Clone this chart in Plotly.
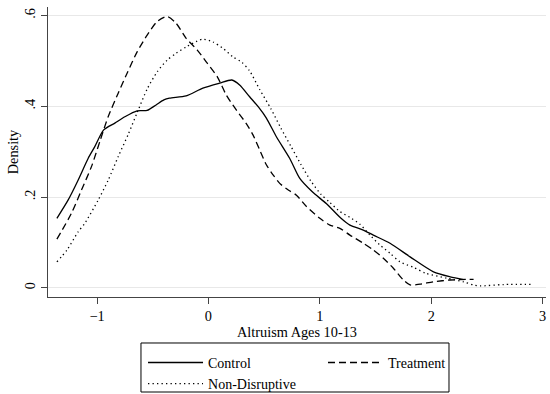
import plotly.graph_objects as go

# Kernel density estimates of altruism (ages 10-13) by group
control_x = [-1.36, -1.26, -1.17, -1.08, -1.02, -0.94, -0.84, -0.75, -0.64, -0.55, -0.47,
             -0.40, -0.35, -0.20, -0.05, 0.10, 0.21, 0.28, 0.37, 0.45, 0.52, 0.61, 0.73,
             0.82, 0.93, 1.06, 1.19, 1.27, 1.39, 1.48, 1.63, 1.81, 2.02, 2.17, 2.29]
control_y = [0.153, 0.193, 0.237, 0.285, 0.311, 0.348, 0.363, 0.377, 0.390, 0.391, 0.403,
             0.414, 0.418, 0.423, 0.440, 0.451, 0.458, 0.447, 0.421, 0.398, 0.374, 0.333, 0.285,
             0.241, 0.212, 0.185, 0.153, 0.138, 0.127, 0.116, 0.098, 0.068, 0.035, 0.024, 0.018]

treatment_x = [-1.36, -1.23, -1.14, -1.05, -0.97, -0.90, -0.81, -0.73, -0.64, -0.55, -0.46,
               -0.37, -0.29, -0.20, -0.10, -0.02, 0.08, 0.16, 0.25, 0.34, 0.40, 0.46, 0.52,
               0.58, 0.64, 0.72, 0.79, 0.88, 1.00, 1.09, 1.18, 1.27, 1.39, 1.48, 1.57, 1.66,
               1.75, 1.81, 1.90, 2.02, 2.17, 2.38]
treatment_y = [0.107, 0.164, 0.215, 0.267, 0.326, 0.377, 0.429, 0.473, 0.520, 0.557, 0.587,
               0.598, 0.583, 0.550, 0.524, 0.498, 0.465, 0.425, 0.392, 0.362, 0.337, 0.304, 0.271,
               0.249, 0.230, 0.215, 0.204, 0.179, 0.153, 0.138, 0.131, 0.116, 0.098, 0.083, 0.065,
               0.043, 0.017, 0.006, 0.008, 0.013, 0.017, 0.0185]

nondisruptive_x = [-1.36, -1.27, -1.17, -1.11, -0.99, -0.90, -0.81, -0.72, -0.64, -0.55, -0.46,
                   -0.37, -0.29, -0.20, -0.10, -0.05, 0.04, 0.13, 0.22, 0.30, 0.37, 0.46, 0.56,
                   0.65, 0.74, 0.83, 0.92, 1.01, 1.09, 1.18, 1.27, 1.36, 1.45, 1.54, 1.63, 1.72,
                   1.84, 1.95, 2.14, 2.29, 2.38, 2.44, 2.65, 2.92]
nondisruptive_y = [0.057, 0.083, 0.123, 0.142, 0.193, 0.237, 0.289, 0.338, 0.386, 0.438, 0.476,
                   0.502, 0.517, 0.531, 0.544, 0.548, 0.542, 0.528, 0.509, 0.497, 0.478, 0.437, 0.395,
                   0.352, 0.312, 0.272, 0.235, 0.206, 0.188, 0.168, 0.155, 0.140, 0.116, 0.094, 0.076,
                   0.057, 0.045, 0.032, 0.021, 0.013, 0.006, 0.004, 0.007, 0.0075]

x_ticks = [-1, 0, 1, 2, 3]
y_ticks = [0, 0.2, 0.4, 0.6]
y_tick_labels = ["0", ".2", ".4", ".6"]

FONT = "Liberation Serif"
FS = 14.3

fig = go.Figure()
fig.add_trace(go.Scatter(x=control_x, y=control_y, mode="lines", name="Control",
                         line=dict(color="black", width=1.3, shape="spline", smoothing=0.7),
                         legend="legend"))
fig.add_trace(go.Scatter(x=treatment_x, y=treatment_y, mode="lines", name="Treatment",
                         line=dict(color="black", width=1.3, dash="7px,4px", shape="spline", smoothing=0.7),
                         legend="legend2"))
fig.add_trace(go.Scatter(x=nondisruptive_x, y=nondisruptive_y, mode="lines", name="Non-Disruptive",
                         line=dict(color="black", width=1.3, dash="1.3px,3.2px", shape="spline", smoothing=0.7),
                         legend="legend"))

legend_common = dict(orientation="v", xanchor="left", yanchor="top", y=-0.172,
                     borderwidth=0, bgcolor="rgba(0,0,0,0)", itemwidth=55,
                     font=dict(family=FONT, size=14, color="black"), traceorder="normal")

fig.update_layout(
    width=550, height=394,
    margin=dict(l=48, r=4, t=7, b=97, autoexpand=False),
    paper_bgcolor="white", plot_bgcolor="white",
    font=dict(family=FONT, size=FS, color="black"),
    showlegend=True,
    legend=dict(x=0.1908, **legend_common),
    legend2=dict(x=0.5522, **legend_common),
    # frame around the two legend columns
    shapes=[dict(type="rect", xref="paper", yref="paper",
                 x0=0.1867, x1=0.8052, y0=-0.3276, y1=-0.1586,
                 line=dict(color="black", width=1), fillcolor="rgba(0,0,0,0)")],
    xaxis=dict(range=[-1.44, 3.03], tickvals=x_ticks, showgrid=False, zeroline=False,
               showline=True, linecolor="#444", linewidth=1.2,
               ticks="outside", ticklen=6, tickcolor="#444", tickwidth=1,
               tickfont=dict(family=FONT, size=FS),
               title=dict(text="Altruism Ages 10-13", font=dict(family=FONT, size=FS), standoff=0)),
    yaxis=dict(range=[-0.0205, 0.619], tickvals=y_ticks, ticktext=y_tick_labels,
               showgrid=True, gridcolor="#e8e8e8", gridwidth=1, zeroline=False,
               showline=True, linecolor="#444", linewidth=1.2,
               ticks="outside", ticklen=6, tickcolor="#444", tickwidth=1, tickangle=-90,
               tickfont=dict(family=FONT, size=FS),
               title=dict(text="Density", font=dict(family=FONT, size=FS), standoff=0)),
)

fig.write_html("out.html")
